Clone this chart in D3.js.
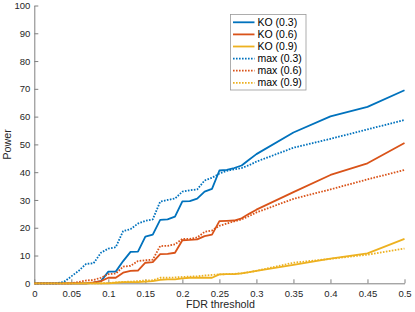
<!DOCTYPE html>
<html>
<head>
  <script src="https://d3js.org/d3.v7.min.js"></script>
  <style>
    body { margin: 0; background: #fff; font-family: "Liberation Sans", Arial, sans-serif; }
    .axis text { font-size: 9.5px; fill: #262626; }
    .axis path, .axis line { stroke: #808080; }
  </style>
</head>
<body>
  <svg width="415" height="312"></svg>
  <script>
    const width = 415, height = 312;
    const margin = { top: 5.5, right: 10.5, bottom: 28.7, left: 34.3 };

    const fdr = [0, 0.01, 0.02, 0.03, 0.04, 0.05, 0.06, 0.07, 0.08, 0.09,
      0.10, 0.11, 0.12, 0.13, 0.14, 0.15, 0.16, 0.17, 0.18, 0.19,
      0.20, 0.21, 0.22, 0.23, 0.24, 0.25, 0.26, 0.27, 0.28, 0.29,
      0.30, 0.35, 0.40, 0.45, 0.50];

    const ko03 = [0, 0, 0, 0, 0, 0, 0, 0, 0.2, 0.8,
      4.2, 4.2, 8, 11.3, 11.4, 16.8, 17.5, 22.8, 23, 24,
      29.5, 29.6, 30.5, 33, 34, 40.6, 40.8, 41.5, 42.4, 44.5,
      46.5, 54.3, 60.1, 63.5, 69.5];
    const ko06 = [0, 0, 0, 0, 0, 0, 0, 0, 0.3, 0.8,
      2, 2, 3.8, 4.5, 4.6, 7.4, 7.6, 10.5, 10.6, 11,
      15.5, 15.6, 15.8, 17, 17.5, 22.4, 22.5, 22.6, 23.4, 25,
      26.5, 32.8, 39, 43.2, 50.5];
    const ko09 = [0, 0, 0, 0, 0, 0, 0, 0, 0, 0,
      0, 0.2, 0.4, 0.4, 0.4, 0.6, 0.8, 1.2, 1.4, 1.4,
      1.8, 2, 2, 2, 2, 3.2, 3.3, 3.3, 3.6, 4,
      4.5, 6.6, 8.9, 10.8, 16];
    const max03 = [0, 0, 0, 0, 0.5, 2.5, 4.5, 7, 7.2, 11,
      12.5, 13, 18.8, 19.5, 21.5, 22.5, 23, 29.4, 30, 30.5,
      33, 33.5, 33.8, 37, 38, 39.5, 40.5, 41, 41.5, 42.5,
      43.8, 48.8, 52, 55.4, 58.8];
    const max06 = [0, 0, 0, 0, 0, 0, 0.5, 1, 1.2, 2,
      3.3, 3.5, 6, 6.3, 8, 8.3, 8.5, 13.4, 13.5, 14,
      16, 16, 16.5, 18.5, 19, 20.7, 21.5, 22.3, 23, 24.2,
      25.5, 30.4, 33.8, 37.4, 40.8];
    const max09 = [0, 0, 0, 0, 0, 0, 0, 0, 0, 0,
      0.1, 0.3, 0.5, 0.6, 0.8, 1, 1.1, 2, 2, 2.1,
      2.3, 2.4, 2.5, 2.8, 3, 3.2, 3.3, 3.4, 3.6, 4,
      4.5, 7.4, 8.8, 10.3, 12.5];

    const series = [
      { name: "KO (0.3)", values: ko03, color: "#0072BD", dotted: false },
      { name: "KO (0.6)", values: ko06, color: "#D95319", dotted: false },
      { name: "KO (0.9)", values: ko09, color: "#EDB120", dotted: false },
      { name: "max (0.3)", values: max03, color: "#0072BD", dotted: true },
      { name: "max (0.6)", values: max06, color: "#D95319", dotted: true },
      { name: "max (0.9)", values: max09, color: "#EDB120", dotted: true }
    ];

    const xTicks = d3.range(0, 0.5001, 0.05);
    const yTicks = d3.range(0, 101, 10);

    const svg = d3.select("svg");

    const x = d3.scaleLinear().domain([0, 0.5]).range([margin.left, width - margin.right]);
    const y = d3.scaleLinear().domain([0, 100]).range([height - margin.bottom, margin.top]);

    // axes (MATLAB style: ticks inward, no box)
    svg.append("g")
      .attr("class", "axis")
      .attr("transform", `translate(0,${height - margin.bottom})`)
      .call(d3.axisBottom(x).tickValues(xTicks).tickSizeInner(-4).tickSizeOuter(0)
        .tickPadding(7).tickFormat(d => d3.format("~g")(+d.toFixed(2))));

    svg.append("g")
      .attr("class", "axis")
      .attr("transform", `translate(${margin.left},0)`)
      .call(d3.axisLeft(y).tickValues(yTicks).tickSizeInner(-4).tickSizeOuter(0).tickPadding(4));

    svg.append("text")
      .attr("x", (x(0) + x(0.5)) / 2 + 1)
      .attr("y", 308)
      .attr("text-anchor", "middle")
      .attr("font-size", 10.7)
      .attr("fill", "#262626")
      .text("FDR threshold");

    svg.append("text")
      .attr("transform", `translate(11,${(y(0) + y(100)) / 2}) rotate(-90)`)
      .attr("text-anchor", "middle")
      .attr("font-size", 10.7)
      .attr("fill", "#262626")
      .text("Power");

    const line = d3.line().x((d, i) => x(fdr[i])).y(d => y(d));

    svg.append("g").selectAll("path")
      .data(series)
      .join("path")
      .attr("d", d => line(d.values))
      .attr("fill", "none")
      .attr("stroke", d => d.color)
      .attr("stroke-width", 1.8)
      .attr("stroke-dasharray", d => d.dotted ? "1.6,1.4" : null)
      .attr("stroke-linejoin", "round");

    // legend
    const lg = svg.append("g").attr("transform", "translate(230.5,14.5)");
    lg.append("rect")
      .attr("width", 75.5)
      .attr("height", 75.5)
      .attr("fill", "#fff")
      .attr("stroke", "#999")
      .attr("stroke-width", 0.8);

    const item = lg.selectAll("g.item")
      .data(series)
      .join("g")
      .attr("class", "item")
      .attr("transform", (d, i) => `translate(0,${7.8 + i * 12.1})`);

    item.append("line")
      .attr("x1", 2.5).attr("x2", 24)
      .attr("stroke", d => d.color)
      .attr("stroke-width", 1.8)
      .attr("stroke-dasharray", d => d.dotted ? "1.6,1.4" : null);

    item.append("text")
      .attr("x", 27)
      .attr("dy", "0.35em")
      .attr("font-size", 10.5)
      .attr("fill", "#000")
      .text(d => d.name);
  </script>
</body>
</html>
